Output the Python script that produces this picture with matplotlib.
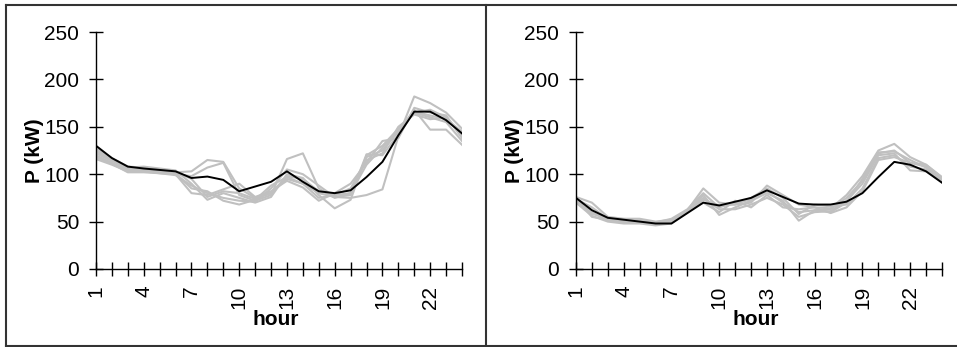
import matplotlib
matplotlib.use("Agg")
import matplotlib.pyplot as plt
from matplotlib.lines import Line2D

plt.rcParams['font.family'] = ['Liberation Sans', 'DejaVu Sans']

hours = list(range(1, 25))
tick_labels = ['1', '4', '7', '10', '13', '16', '19', '22']

# left panel: mean profile (black) and individual days (grey)
left_mean = [130, 117, 108, 106, 104.5, 103, 96, 97.5, 94, 82, 87, 92,
             103, 92, 82, 80, 83, 97, 113, 141, 166, 166, 157, 143]
left_days = [
    [122, 114, 106, 106, 104, 102, 103, 115, 113, 85, 75, 80, 95, 90, 80, 76, 75, 78, 84, 140, 182, 175, 165, 148],
    [118, 111, 102, 102, 101, 100, 98, 107, 112, 78, 72, 78, 116, 122, 85, 75, 80, 118, 125, 145, 168, 147, 147, 131],
    [125, 116, 107, 108, 106, 104, 90, 73, 80, 75, 70, 76, 100, 96, 78, 64, 73, 120, 130, 148, 165, 160, 155, 135],
    [120, 112, 104, 105, 103, 101, 85, 82, 72, 68, 73, 88, 97, 90, 75, 78, 85, 115, 122, 150, 163, 158, 160, 140],
    [124, 115, 105, 104, 102, 100, 80, 78, 84, 90, 76, 82, 93, 86, 72, 80, 90, 112, 135, 138, 170, 165, 162, 138],
    [116, 110, 103, 103, 101, 99, 88, 80, 75, 72, 71, 85, 105, 100, 88, 76, 78, 121, 120, 142, 166, 162, 158, 145],
    [127, 117, 108, 107, 105, 103, 95, 76, 82, 80, 74, 80, 98, 95, 82, 78, 80, 110, 128, 146, 165, 168, 160, 142],
]

# right panel
right_mean = [75, 62, 54, 52, 50, 48, 48, 59, 70, 67, 71, 75,
              83, 76, 69, 68, 68, 71, 80, 97, 113, 110, 103, 91]
right_days = [
    [76, 70, 55, 53, 53, 50, 52, 62, 85, 70, 68, 70, 88, 78, 68, 65, 64, 78, 98, 125, 132, 118, 110, 97],
    [74, 65, 53, 50, 51, 49, 50, 60, 78, 57, 65, 72, 80, 72, 51, 62, 63, 75, 93, 122, 125, 112, 108, 95],
    [72, 60, 51, 49, 49, 47, 49, 61, 75, 63, 63, 68, 75, 68, 55, 60, 61, 72, 90, 120, 122, 104, 103, 92],
    [70, 56, 50, 48, 48, 46, 48, 60, 73, 67, 68, 75, 85, 75, 58, 68, 66, 68, 85, 117, 120, 108, 105, 93],
    [75, 55, 52, 50, 50, 48, 51, 62, 70, 60, 72, 65, 78, 65, 63, 65, 59, 65, 82, 115, 118, 112, 110, 96],
    [73, 58, 54, 52, 51, 49, 53, 63, 80, 65, 70, 73, 82, 70, 60, 62, 60, 70, 95, 123, 124, 115, 107, 94],
]

W, H = 957, 347
fig = plt.figure(figsize=(W / 100, H / 100), dpi=100)

# panel frames
frame = dict(color='#333333', lw=1.5, transform=fig.transFigure)
fig.add_artist(Line2D([6 / W, 1], [1 - 5 / H, 1 - 5 / H], **frame))
fig.add_artist(Line2D([6 / W, 1], [1 - 345.5 / H, 1 - 345.5 / H], **frame))
fig.add_artist(Line2D([6 / W, 6 / W], [1 - 5 / H, 1 - 345.5 / H], **frame))
fig.add_artist(Line2D([486 / W, 486 / W], [1 - 5 / H, 1 - 345.5 / H], **frame))

bottom = (H - 269) / H
height = (269 - 32) / H
panels = [(96, left_mean, left_days), (576, right_mean, right_days)]

for x0, mean, days in panels:
    ax = fig.add_axes([x0 / W, bottom, 366 / W, height])
    for d in days:
        ax.plot(hours, d, color='#c0c0c0', lw=1.5)
    ax.plot(hours, mean, color='black', lw=1.4)
    ax.set_xlim(1, 24)
    ax.set_ylim(0, 250)
    ax.set_yticks([0, 50, 100, 150, 200, 250])
    ax.set_xticks(hours)
    ax.set_xticklabels([str(h) if str(h) in tick_labels else '' for h in hours],
                       rotation=90)
    ax.tick_params(axis='both', direction='inout', length=10, width=1,
                   labelsize=15, colors='black')
    ax.tick_params(axis='x', pad=7)
    ax.tick_params(axis='y', pad=7)
    for s in ['top', 'right']:
        ax.spines[s].set_visible(False)
    for s in ['left', 'bottom']:
        ax.spines[s].set_linewidth(1)
    ax.set_xlabel('hour', fontsize=15, fontweight='bold')
    ax.xaxis.set_label_coords(0.49, -0.236)
    ax.xaxis.label.set_verticalalignment('baseline')
    ax.set_ylabel('P (kW)', fontsize=15, fontweight='bold')
    ax.yaxis.set_label_coords(-0.167, 0.5)
    ax.yaxis.label.set_verticalalignment('center')
    ax.patch.set_alpha(0)

fig.savefig('out.png', dpi=100)
